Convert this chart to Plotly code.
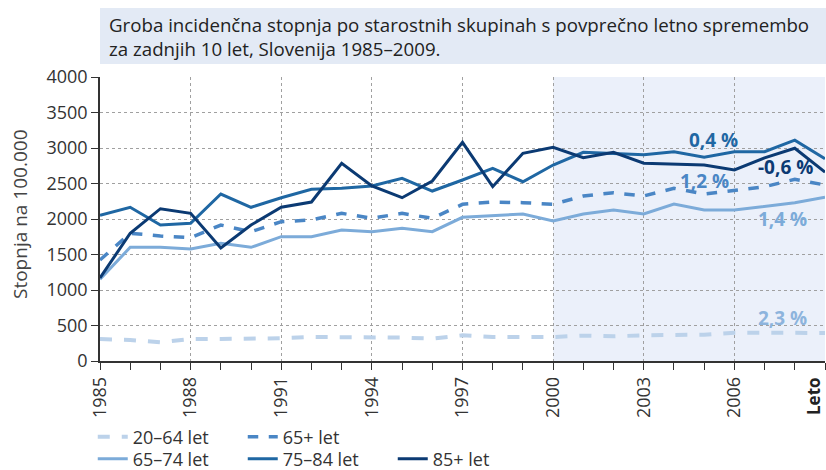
import plotly.graph_objects as go

years = list(range(1985, 2010))

age_20_64 = [310, 296, 263, 310, 310, 310, 320, 338, 338, 338, 329, 315, 362, 338, 338, 338,
             357, 347, 362, 362, 371, 399, 399, 399, 395]
age_65p = [1423, 1799, 1761, 1737, 1915, 1821, 1962, 1986, 2080, 2010, 2080, 2010, 2207, 2239, 2230, 2207,
           2324, 2370, 2324, 2432, 2352, 2408, 2455, 2559, 2479]
age_65_74 = [1151, 1601, 1601, 1577, 1658, 1601, 1751, 1751, 1845, 1821, 1869, 1821, 2024, 2046, 2070, 1972,
             2070, 2127, 2070, 2211, 2127, 2127, 2183, 2230, 2306]
age_75_84 = [2052, 2165, 1915, 1939, 2352, 2165, 2300, 2418, 2432, 2465, 2573, 2394, 2549, 2714, 2525, 2760,
             2939, 2925, 2906, 2948, 2869, 2948, 2948, 3110, 2850]
age_85p = [1169, 1799, 2145, 2080, 1592, 1915, 2165, 2239, 2785, 2465, 2300, 2535, 3080, 2455, 2925, 3010,
           2863, 2939, 2785, 2775, 2761, 2690, 2860, 2996, 2660]

series_names = ["20–64 let", "65+ let", "65–74 let", "75–84 let", "85+ let"]
series_values = [age_20_64, age_65p, age_65_74, age_75_84, age_85p]
series_colors = ["#BCD2EA", "#4A86C5", "#7CABD9", "#1F67A3", "#0B3A73"]
label_colors = ["#8DB4DD", "#4A86C5", "#7CABD9", "#1F67A3", "#0B3A73"]
series_dash = ["dash", "dash", "solid", "solid", "solid"]
series_width = [4, 3.5, 3, 3, 3]
series_legend = ["legend", "legend", "legend2", "legend2", "legend2"]

change_labels = ["2,3 %", "1,2 %", "1,4 %", "0,4 %", "-0,6 %"]
change_x = [2007.6, 2005.0, 2007.6, 2005.3, 2007.7]
change_y = [610, 2535, 2000, 3115, 2730]

xtick_vals = [1985, 1988, 1991, 1994, 1997, 2000, 2003, 2006, 2009]
xtick_text = ["1985", "1988", "1991", "1994", "1997", "2000", "2003", "2006", ""]
x_axis_label = "Leto"

FONT = "Open Sans"
TXT = "#333333"

fig = go.Figure()

for name, vals, col, dash, w, lg in zip(series_names, series_values, series_colors,
                                         series_dash, series_width, series_legend):
    fig.add_trace(go.Scatter(x=years, y=vals, mode="lines", name=name,
                             line=dict(color=col, dash=dash, width=w),
                             legend=lg))

for lab, x, y, col in zip(change_labels, change_x, change_y, label_colors):
    fig.add_annotation(x=x, y=y, text="<b>" + lab + "</b>", showarrow=False,
                       font=dict(family=FONT, size=19, color=col))

# shaded last decade
fig.add_shape(type="rect", xref="x", yref="paper", x0=2000, x1=2009, y0=0, y1=1,
              fillcolor="#EBF0FA", line=dict(width=0), layer="below")

# title box
fig.add_shape(type="rect", xref="paper", yref="paper", x0=0, x1=1.01, y0=(361 - 64) / 284, y1=(361 - 8) / 284,
              fillcolor="#E3EAF5", line=dict(width=0), layer="below")
fig.add_annotation(xref="paper", yref="paper", x=0.009, y=(361 - 10) / 284, xanchor="left", yanchor="top",
                   align="left", showarrow=False,
                   text="Groba incidenčna stopnja po starostnih skupinah s povprečno letno spremembo<br>"
                        "za zadnjih 10 let, Slovenija 1985–2009.",
                   font=dict(family=FONT, size=18.7, color="#222222"))

# y axis title
fig.add_annotation(xref="paper", yref="paper", x=(20 - 100) / 725, y=(361 - 214) / 284,
                   xanchor="center", yanchor="middle", textangle=-90, showarrow=False,
                   text="Stopnja na 100.000", font=dict(family=FONT, size=19, color="#444444"))

# x axis label "Leto"
fig.add_annotation(xref="paper", yref="paper", x=(813 - 100) / 725, y=(361 - 375) / 284,
                   xanchor="center", yanchor="top", textangle=-90, showarrow=False,
                   text="<b>" + x_axis_label + "</b>", font=dict(family=FONT, size=17, color="#222222"))

fig.update_layout(
    width=826, height=470,
    margin=dict(l=100, r=1, t=77, b=109, autoexpand=False),
    paper_bgcolor="white", plot_bgcolor="white",
    font=dict(family=FONT, size=18, color=TXT),
    showlegend=True,
    legend=dict(orientation="h", x=-0.01, y=(361 - 437) / 284, xanchor="left", yanchor="middle",
                entrywidth=105, entrywidthmode="pixels", itemwidth=30,
                font=dict(family=FONT, size=18, color=TXT), bgcolor="rgba(0,0,0,0)"),
    legend2=dict(orientation="h", x=-0.01, y=(361 - 459) / 284, xanchor="left", yanchor="middle",
                 entrywidth=105, entrywidthmode="pixels", itemwidth=30,
                 font=dict(family=FONT, size=18, color=TXT), bgcolor="rgba(0,0,0,0)"),
)

fig.update_xaxes(range=[1985, 2009], tickvals=xtick_vals, ticktext=xtick_text, tickangle=-90,
                 ticks="outside", ticklen=7, tickcolor="#333", showline=True, linecolor="#333",
                 linewidth=1.5, showgrid=True, gridcolor="#A0A0A0", griddash="dot", gridwidth=1,
                 minor=dict(dtick=1, tick0=1985, ticks="outside", ticklen=7, tickcolor="#333", showgrid=False),
                 tickfont=dict(family=FONT, size=18, color=TXT), zeroline=False, automargin=False)
fig.update_yaxes(range=[0, 4000], dtick=500, ticks="outside", ticklen=7, tickcolor="#333",
                 showline=True, linecolor="#333", linewidth=1.5, showgrid=True, gridcolor="#A0A0A0",
                 griddash="dot", gridwidth=1, zeroline=False, automargin=False,
                 tickfont=dict(family=FONT, size=18, color=TXT))

fig.write_html("out.html", config={"displayModeBar": False},
               post_script="document.body.style.margin='0';document.body.style.overflow='hidden';")
